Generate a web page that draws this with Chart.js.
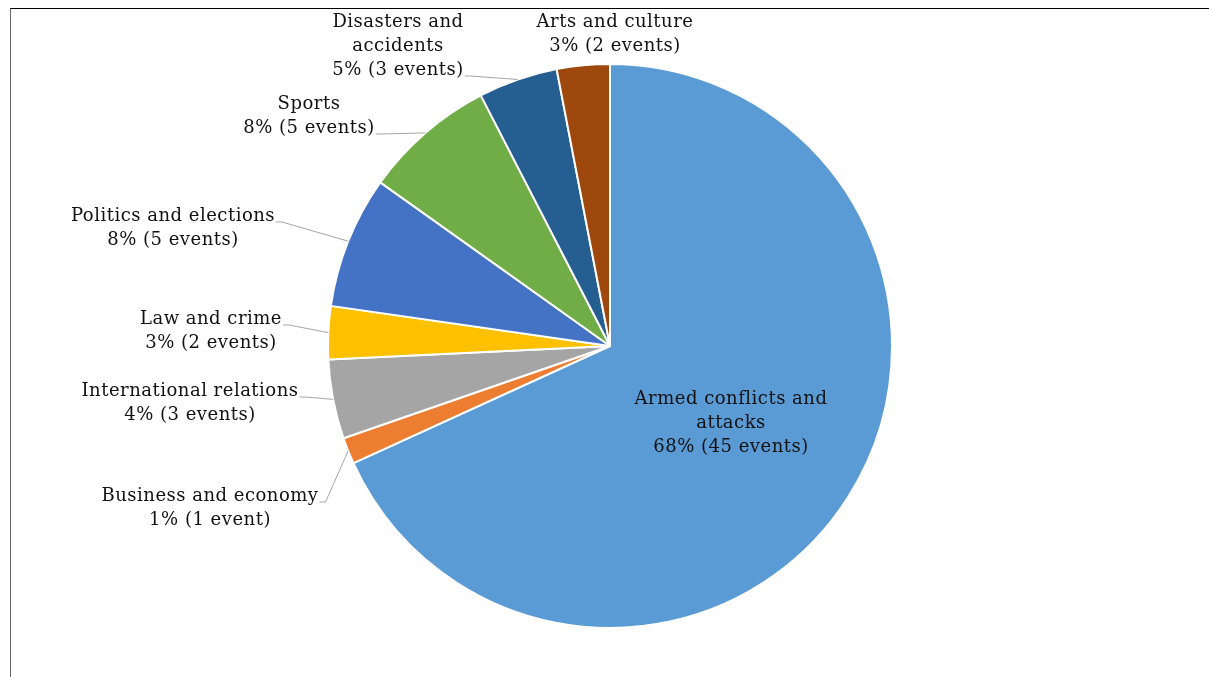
<!DOCTYPE html>
<html>
<head>
<meta charset="utf-8">
<script src="https://cdn.jsdelivr.net/npm/chart.js@4.4.1/dist/chart.umd.min.js"></script>
<style>
  body { margin: 0; background: #fff; }
  #wrap { position: relative; width: 1209px; height: 677px; }
  #frame { position: absolute; left: 10px; top: 8px; width: 1198px; height: 669px;
           border-top: 1px solid #000; border-left: 1px solid #666; pointer-events: none; }
  canvas { position: absolute; left: 0; top: 0; }
</style>
</head>
<body>
<div id="wrap">
  <canvas id="pie" width="1209" height="677"></canvas>
  <div id="frame"></div>
</div>
<script>
// chart data
const categories = [
  'Armed conflicts and attacks',
  'Business and economy',
  'International relations',
  'Law and crime',
  'Politics and elections',
  'Sports',
  'Disasters and accidents',
  'Arts and culture'
];
const eventCounts = [45, 1, 3, 2, 5, 5, 3, 2];
const percentLabels = ['68%', '1%', '4%', '3%', '8%', '8%', '5%', '3%'];

const sliceColors = ['#5B9BD5', '#ED7D31', '#A5A5A5', '#FFC000', '#4472C4', '#70AD47', '#255E91', '#9E480E'];

// where each data label sits (text centre x, middle of first line y), which line the leader joins
const labelLayout = [
  { x: 731, y: 399, maxWidth: 230, inside: true },
  { x: 210, y: 496, attach: 0 },
  { x: 190, y: 391, attach: 0 },
  { x: 211, y: 319, attach: 0 },
  { x: 173, y: 216, attach: 0 },
  { x: 309, y: 104, attach: 1 },
  { x: 398, y: 22, maxWidth: 160, attach: 2 },
  { x: 615, y: 22 }
];

const FONT = '18px "DejaVu Serif", "Liberation Serif", serif';
const LINE_H = 24;

function wrapText(ctx, text, maxWidth) {
  if (!maxWidth) return [text];
  const words = text.split(' ');
  const lines = [];
  let cur = '';
  words.forEach(w => {
    const test = cur ? cur + ' ' + w : w;
    if (ctx.measureText(test).width > maxWidth && cur) {
      lines.push(cur);
      cur = w;
    } else {
      cur = test;
    }
  });
  if (cur) lines.push(cur);
  return lines;
}

const pieLabels = {
  id: 'pieLabels',
  afterDatasetsDraw(chart) {
    const ctx = chart.ctx;
    const meta = chart.getDatasetMeta(0);
    ctx.save();
    ctx.font = FONT;
    ctx.letterSpacing = '0.5px';
    ctx.textAlign = 'center';
    ctx.textBaseline = 'middle';
    meta.data.forEach((arc, i) => {
      const lay = labelLayout[i];
      const n = eventCounts[i];
      const lines = wrapText(ctx, categories[i], lay.maxWidth);
      lines.push(percentLabels[i] + ' (' + n + (n === 1 ? ' event)' : ' events)'));

      // leader line
      if (lay.attach !== undefined) {
        const mid = (arc.startAngle + arc.endAngle) / 2;
        const ax = arc.x + Math.cos(mid) * arc.outerRadius;
        const ay = arc.y + Math.sin(mid) * arc.outerRadius;
        const lineText = lines[lay.attach];
        const tx = lay.x + ctx.measureText(lineText).width / 2 + 1;
        const ty = lay.y + lay.attach * LINE_H + 6;
        ctx.strokeStyle = '#A6A6A6';
        ctx.lineWidth = 1;
        ctx.beginPath();
        ctx.moveTo(tx, ty);
        ctx.lineTo(tx + 6, ty);
        ctx.lineTo(ax, ay);
        ctx.stroke();
      }

      ctx.fillStyle = '#111';
      lines.forEach((t, k) => ctx.fillText(t, lay.x, lay.y + k * LINE_H));
    });
    ctx.restore();
  }
};

new Chart(document.getElementById('pie').getContext('2d'), {
  type: 'pie',
  data: {
    labels: categories,
    datasets: [{
      data: eventCounts,
      backgroundColor: sliceColors,
      borderColor: '#ffffff',
      borderWidth: 2
    }]
  },
  options: {
    responsive: false,
    animation: false,
    layout: { padding: { left: 327, right: 316, top: 63, bottom: 48 } },
    plugins: {
      legend: { display: false },
      tooltip: { enabled: false }
    }
  },
  plugins: [pieLabels]
});
</script>
</body>
</html>
